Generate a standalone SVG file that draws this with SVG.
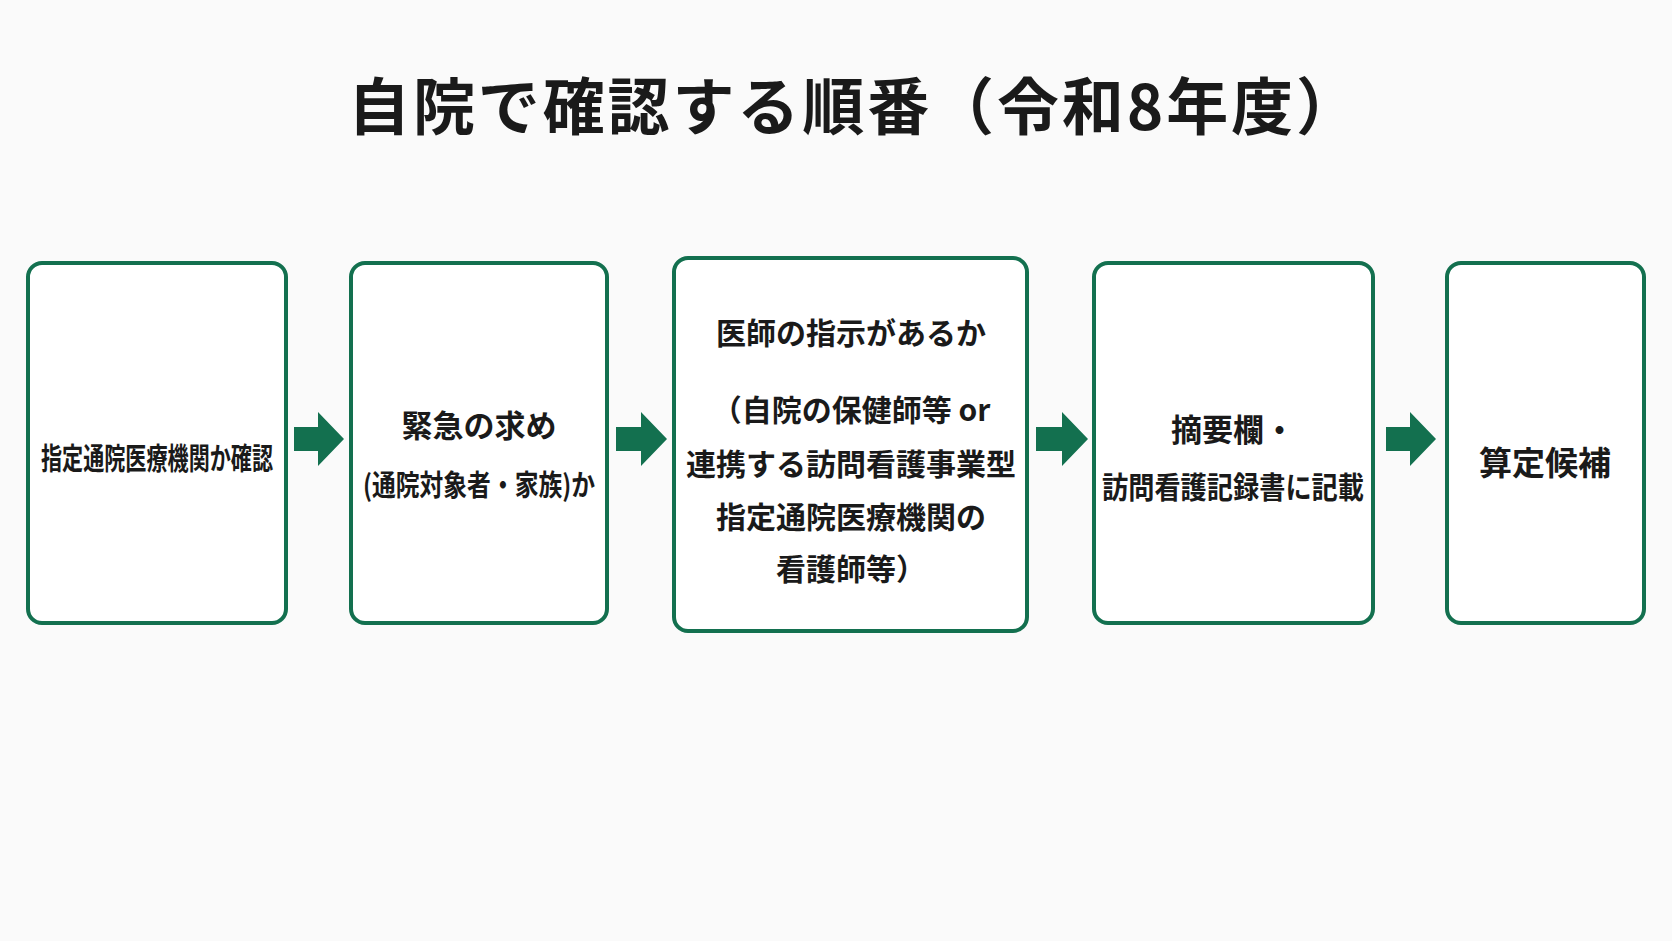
<svg xmlns="http://www.w3.org/2000/svg" width="1672" height="941" viewBox="0 0 1672 941">
<style>
.b{fill:#fff;stroke:#13704f;stroke-width:4}
.t{font-family:"Noto Sans CJK JP","Noto Sans",sans-serif;font-weight:bold;fill:#1a1a1a;text-anchor:middle;dominant-baseline:central}
.a{fill:#13704f}
</style>
<rect width="1672" height="941" fill="#fafafa"/>
<text class="t" x="853" y="103" font-size="62" textLength="1010" lengthAdjust="spacing">自院で確認する順番（令和8年度）</text>
<g id="n1"><rect class="b" x="28" y="263" width="258" height="360" rx="14"/><text class="t" x="157" y="456" font-size="30" textLength="232" lengthAdjust="spacingAndGlyphs">指定通院医療機関か確認</text></g>
<g id="n2"><rect class="b" x="351" y="263" width="256" height="360" rx="14"/><text class="t" x="479" y="423" font-size="31">緊急の求め</text><text class="t" x="479" y="483" font-size="29" textLength="232" lengthAdjust="spacingAndGlyphs">(通院対象者・家族)か</text></g>
<g id="n3"><rect class="b" x="674" y="258" width="353" height="373" rx="14"/><text class="t" x="851" y="331" font-size="30">医師の指示があるか</text><text class="t" x="851" y="408" font-size="30">（自院の保健師等 or</text><text class="t" x="851" y="462" font-size="30">連携する訪問看護事業型</text><text class="t" x="851" y="515" font-size="30">指定通院医療機関の</text><text class="t" x="851" y="567" font-size="30">看護師等）</text></g>
<g id="n4"><rect class="b" x="1094" y="263" width="279" height="360" rx="14"/><text class="t" x="1233" y="427" font-size="31">摘要欄・</text><text class="t" x="1233" y="485" font-size="30" textLength="262" lengthAdjust="spacingAndGlyphs">訪問看護記録書に記載</text></g>
<g id="n5"><rect class="b" x="1447" y="263" width="197" height="360" rx="14"/><text class="t" x="1545" y="461" font-size="33">算定候補</text></g>
<g id="connectors">
<path class="a" d="M294 427h24v-15l26 27-26 27v-15h-24z"/>
<path class="a" d="M616 427h25v-15l26 27-26 27v-15h-25z"/>
<path class="a" d="M1036 427h26v-15l26 27-26 27v-15h-26z"/>
<path class="a" d="M1386 427h24v-15l26 27-26 27v-15h-24z"/>
</g>
</svg>
